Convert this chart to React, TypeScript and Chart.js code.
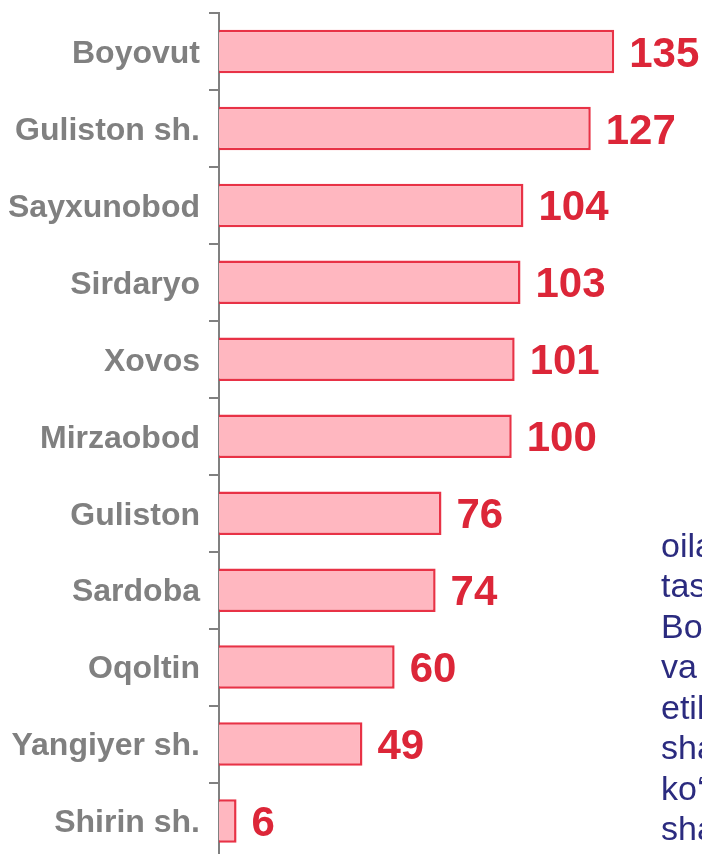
import React, { useEffect, useRef } from "react";
import { Chart, registerables } from "chart.js";

Chart.register(...registerables);

const categories = [
  "Boyovut",
  "Guliston sh.",
  "Sayxunobod",
  "Sirdaryo",
  "Xovos",
  "Mirzaobod",
  "Guliston",
  "Sardoba",
  "Oqoltin",
  "Yangiyer sh.",
  "Shirin sh.",
];
const values = [135, 127, 104, 103, 101, 100, 76, 74, 60, 49, 6];
const sideTextLines = ["oila", "tas", "Bo", "va", "etil", "sha", "ko‘", "sha"];

const FONT = "'Liberation Sans', Arial, Helvetica, sans-serif";

const valueLabels = {
  id: "valueLabels",
  afterDatasetsDraw(chart: any) {
    const ctx = chart.ctx;
    const meta = chart.getDatasetMeta(0);
    ctx.save();
    ctx.font = `bold 42px ${FONT}`;
    ctx.fillStyle = "#dc2638";
    ctx.textAlign = "left";
    ctx.textBaseline = "middle";
    meta.data.forEach((bar: any, i: number) => {
      ctx.fillText(String(chart.data.datasets[0].data[i]), bar.x + 15, bar.y + 3.5);
    });
    ctx.restore();
  },
};

export default function App() {
  const canvasRef = useRef<HTMLCanvasElement | null>(null);

  useEffect(() => {
    if (!canvasRef.current) return;
    const chart = new Chart(canvasRef.current, {
      type: "bar",
      data: {
        labels: categories,
        datasets: [
          {
            data: values,
            backgroundColor: "rgb(255,183,192)",
            borderColor: "rgb(232,50,70)",
            borderWidth: 2.5,
            categoryPercentage: 1,
            barPercentage: 0.565,
          },
        ],
      },
      options: {
        indexAxis: "y",
        animation: false,
        responsive: false,
        maintainAspectRatio: false,
        layout: { padding: { top: 13, bottom: 10.5, left: 0, right: 0 } },
        plugins: {
          legend: { display: false },
          tooltip: { enabled: false },
        },
        scales: {
          x: {
            display: false,
            min: 0,
            max: 165,
          },
          y: {
            afterFit: (scale: any) => {
              scale.width = 219;
              scale.paddingTop = 0;
              scale.paddingBottom = 0;
            },
            grid: {
              display: true,
              drawOnChartArea: false,
              drawTicks: true,
              tickLength: 10,
              color: "#808080",
              lineWidth: 2,
              offset: true,
            },
            border: { display: true, color: "#808080", width: 2 },
            ticks: {
              color: "#808080",
              padding: 9,
              labelOffset: 2.5,
              font: { family: FONT, size: 32, weight: "bold" },
            },
          },
        },
      },
      plugins: [valueLabels],
    });
    return () => chart.destroy();
  }, []);

  return (
    <div
      style={{
        position: "fixed",
        left: 0,
        top: 0,
        width: 702,
        height: 854,
        overflow: "hidden",
        background: "#fff",
      }}
    >
      <canvas
        ref={canvasRef}
        width={702}
        height={870}
        style={{ position: "absolute", left: 0, top: 0, width: 702, height: 870 }}
      />
      <div
        style={{
          position: "absolute",
          left: 661,
          top: 524.5,
          fontFamily: FONT,
          fontSize: 34,
          lineHeight: "40.5px",
          color: "#2b2b7f",
          whiteSpace: "pre",
        }}
      >
        {sideTextLines.join("\n")}
      </div>
    </div>
  );
}
